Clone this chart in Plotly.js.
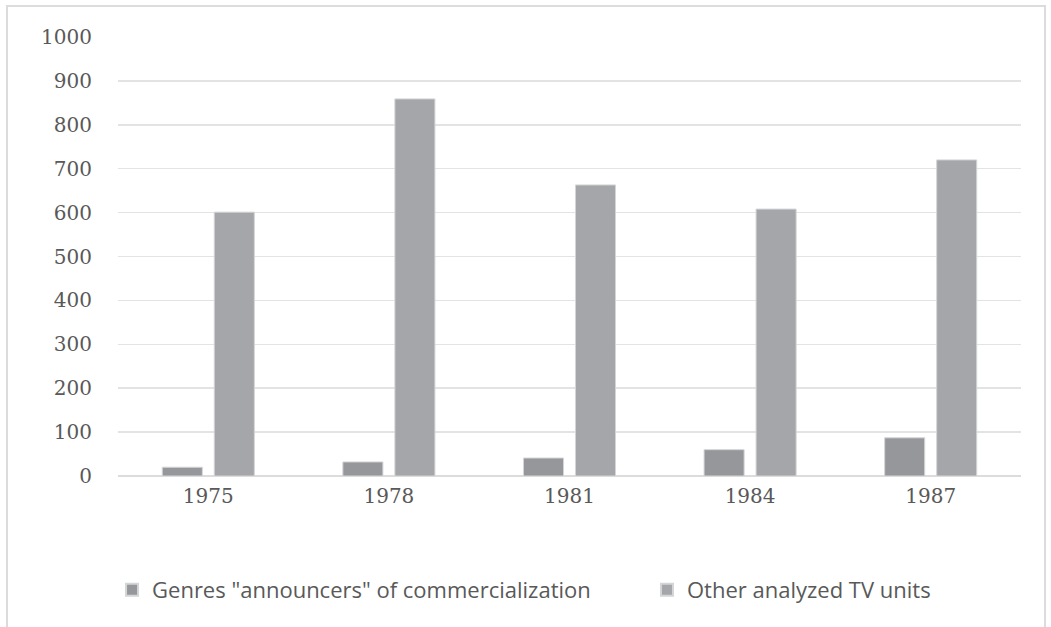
<!DOCTYPE html>
<html><head><meta charset="utf-8">
<script src="https://cdn.plot.ly/plotly-3.0.1.min.js"></script>
<style>
html,body{margin:0;padding:0;background:#fff;}
#frame{position:absolute;left:6px;top:5px;width:1040px;height:640px;border:2px solid #dcdcdc;box-sizing:border-box;}
#chart{position:absolute;left:0;top:0;width:1051px;height:627px;}
</style></head>
<body>
<div id="frame"></div>
<div id="chart"></div>
<script>
var years = ["1975","1978","1981","1984","1987"];
var genresAnnouncers = [20, 32, 41, 60, 87];
var otherUnits = [601, 859, 663, 608, 720];
var seriesNames = ['Genres "announcers" of commercialization', 'Other analyzed TV units'];
var yTicks = [0,100,200,300,400,500,600,700,800,900,1000];

var traces = [
  {type:'bar', x:years, y:genresAnnouncers, name:seriesNames[0], legend:'legend',
   marker:{color:'#96979b', line:{color:'#d4d5d7', width:1}}},
  {type:'bar', x:years, y:otherUnits, name:seriesNames[1], legend:'legend2',
   marker:{color:'#a5a6a9', line:{color:'#d4d5d7', width:1}}}
];
var tf = {size:20, family:'"DejaVu Serif", serif', color:'#595959'};
var lf = {family:'"Open Sans", sans-serif', size:22, color:'#595959'};
var layout = {
  width:1051, height:627,
  paper_bgcolor:'rgba(0,0,0,0)', plot_bgcolor:'rgba(0,0,0,0)',
  margin:{l:118, r:30, t:37, b:151},
  barmode:'group', bargap:0.424, bargroupgap:0.23,
  font:{family:'"DejaVu Serif", serif', color:'#595959', size:20},
  xaxis:{type:'category', showgrid:false, zeroline:false, showline:false,
    ticks:'', ticklabelstandoff:6, tickfont:tf},
  yaxis:{range:[0,1000], tickvals:yTicks, showgrid:true, gridcolor:'#e3e3e3', gridwidth:1.5,
    zeroline:true, zerolinecolor:'#dcdcdc', zerolinewidth:2, showline:false,
    ticks:'', ticklen:0, ticklabelstandoff:25, tickfont:tf},
  showlegend:true,
  legend:{orientation:'h', x:-0.0066, xanchor:'left', y:-0.2597, yanchor:'middle',
    font:lf, itemsizing:'constant', bgcolor:'rgba(0,0,0,0)'},
  legend2:{orientation:'h', x:0.5858, xanchor:'left', y:-0.2597, yanchor:'middle',
    font:lf, itemsizing:'constant', bgcolor:'rgba(0,0,0,0)'}
};
Plotly.newPlot('chart', traces, layout, {displayModeBar:false, staticPlot:true});
</script>
</body></html>
